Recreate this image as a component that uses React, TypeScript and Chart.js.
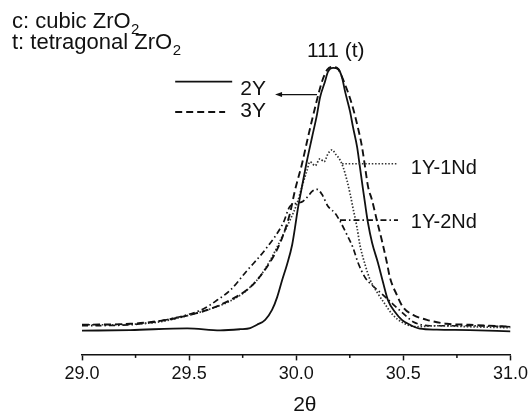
import { useEffect, useRef } from "react";
import { Chart, registerables } from "chart.js";

Chart.register(...registerables);

// ---- data (2θ in degrees, intensity in arbitrary units) ----
const X_TICKS = [29.0, 29.5, 30.0, 30.5, 31.0];
const MINOR_TICKS = [29.25, 29.75, 30.25, 30.75];

const X_2Y = [29.0, 29.225, 29.491, 29.645, 29.738, 29.785, 29.817, 29.855, 29.887, 29.911, 29.934, 29.957, 29.981, 29.994, 30.008, 30.027, 30.05, 30.074, 30.097, 30.111, 30.134, 30.148, 30.172, 30.195, 30.214, 30.228, 30.251, 30.265, 30.284, 30.297, 30.311, 30.321, 30.335, 30.354, 30.381, 30.405, 30.428, 30.461, 30.493, 30.531, 30.577, 30.656, 30.81, 31.0];
const I_2Y = [8.0, 8.2, 8.8, 8.1, 8.5, 8.9, 10.0, 11.67, 15.0, 19.33, 25.0, 30.33, 37.0, 42.67, 49.33, 56.67, 65.33, 73.33, 81.0, 86.67, 92.0, 95.33, 96.67, 96.33, 93.33, 88.67, 82.0, 76.67, 70.0, 63.33, 56.0, 51.0, 44.33, 37.67, 31.0, 24.33, 18.33, 14.33, 11.67, 10.0, 8.67, 8.33, 8.2, 7.8];

const X_3Y = [29.0, 29.225, 29.365, 29.505, 29.598, 29.692, 29.785, 29.855, 29.925, 29.971, 29.994, 30.027, 30.055, 30.088, 30.12, 30.144, 30.167, 30.19, 30.228, 30.26, 30.284, 30.307, 30.321, 30.335, 30.354, 30.377, 30.4, 30.423, 30.437, 30.47, 30.498, 30.545, 30.61, 30.703, 30.81, 31.0];
const I_3Y = [10.0, 10.33, 11.33, 13.33, 15.33, 18.33, 22.67, 28.67, 37.67, 47.67, 55.33, 64.33, 73.33, 83.33, 92.0, 96.0, 97.0, 96.67, 91.0, 84.33, 77.67, 70.0, 63.33, 56.67, 52.0, 45.0, 38.33, 31.0, 26.0, 20.0, 16.0, 13.33, 11.67, 10.33, 10.0, 9.33];

const X_1Y1ND = [29.0, 29.132, 29.272, 29.365, 29.505, 29.598, 29.692, 29.752, 29.785, 29.831, 29.878, 29.925, 29.971, 30.004, 30.027, 30.05, 30.064, 30.088, 30.111, 30.13, 30.148, 30.167, 30.186, 30.204, 30.218, 30.237, 30.251, 30.265, 30.284, 30.297, 30.321, 30.344, 30.377, 30.414, 30.451, 30.498, 30.563, 30.656, 30.81, 31.0];
const I_1Y1ND = [10.0, 10.0, 10.33, 11.0, 13.33, 15.33, 18.0, 20.67, 22.67, 26.33, 31.67, 38.33, 45.33, 51.0, 56.67, 62.0, 65.0, 63.67, 66.0, 65.0, 67.67, 69.0, 67.33, 65.67, 63.33, 58.67, 54.33, 49.33, 42.67, 37.0, 30.33, 25.33, 21.0, 17.0, 13.33, 10.67, 9.33, 9.67, 9.33, 9.0];

const X_1Y2ND = [29.0, 29.225, 29.412, 29.566, 29.631, 29.692, 29.771, 29.855, 29.939, 29.971, 30.004, 30.032, 30.055, 30.074, 30.097, 30.12, 30.148, 30.181, 30.204, 30.237, 30.265, 30.288, 30.321, 30.354, 30.391, 30.451, 30.517, 30.545, 30.624, 30.81, 31.0];
const I_1Y2ND = [9.67, 10.0, 12.0, 15.33, 18.33, 21.67, 28.33, 35.33, 44.33, 50.0, 51.0, 51.67, 53.33, 55.0, 55.67, 54.0, 50.0, 47.67, 45.0, 40.33, 36.0, 31.0, 26.0, 23.33, 21.0, 17.0, 12.67, 11.0, 9.67, 9.67, 9.33];

const SERIES_NAMES = ["2Y", "3Y", "1Y-1Nd", "1Y-2Nd"];

const FONT = '"Liberation Sans", Arial, Helvetica, sans-serif';
const INK = "#111111";
const DASH_3Y = [7, 4];
const DASH_1ND = [1.5, 1.8];
const DASH_2ND = [6, 3, 1.5, 3];

const toPoints = (xs: number[], ys: number[]) => xs.map((x, i) => ({ x, y: ys[i] }));

const annotations = {
  id: "annotations",
  afterDraw(chart: any) {
    const ctx = chart.ctx as CanvasRenderingContext2D;
    const xs = chart.scales.x;
    const ys = chart.scales.y;
    const X = (v: number) => xs.getPixelForValue(v);
    const Y = (v: number) => ys.getPixelForValue(v);
    const area = chart.chartArea;
    ctx.save();
    ctx.strokeStyle = INK;
    ctx.fillStyle = INK;

    // minor ticks
    ctx.lineWidth = 1.5;
    MINOR_TICKS.forEach((t) => {
      ctx.beginPath();
      ctx.moveTo(X(t), area.bottom);
      ctx.lineTo(X(t), area.bottom + 3.5);
      ctx.stroke();
    });

    const text = (s: string, x: number, y: number, size: number, sub?: string) => {
      ctx.font = `${size}px ${FONT}`;
      ctx.textAlign = "left";
      ctx.textBaseline = "alphabetic";
      ctx.fillText(s, x, y);
      if (sub) {
        const w = ctx.measureText(s).width;
        ctx.font = `${Math.round(size * 0.66)}px ${FONT}`;
        ctx.fillText(sub, x + w + 0.5, y + 6);
      }
    };
    const seg = (x1: number, y1: number, x2: number, y2: number, dash: number[], w = 1.6, color = INK) => {
      ctx.save();
      ctx.strokeStyle = color;
      ctx.lineWidth = w;
      ctx.setLineDash(dash);
      ctx.beginPath();
      ctx.moveTo(x1, y1);
      ctx.lineTo(x2, y2);
      ctx.stroke();
      ctx.restore();
    };

    // top-left notes
    text("c: cubic ZrO", 12, 28, 22, "2");
    text("t: tetragonal ZrO", 12, 49, 22, "2");

    // peak label
    text("111 (t)", X(30.05), Y(100.3), 21);

    // legend
    seg(X(29.435), Y(92), X(29.701), Y(92), [], 1.8);
    text(SERIES_NAMES[0], X(29.739), Y(87.67), 21);
    seg(X(29.435), Y(81.8), X(29.668), Y(81.8), DASH_3Y, 1.9);
    text(SERIES_NAMES[1], X(29.739), Y(80), 21);

    // arrow pointing to the 2Y peak
    const ay = Y(87.67);
    const ax2 = X(30.097);
    const ax1 = X(29.901);
    seg(ax2, ay, ax1 + 5, ay, [], 1.3);
    ctx.beginPath();
    ctx.moveTo(ax1, ay);
    ctx.lineTo(ax1 + 7, ay - 2.5);
    ctx.lineTo(ax1 + 7, ay + 2.5);
    ctx.closePath();
    ctx.fill();

    // leader lines for Nd samples
    seg(X(30.214), Y(64.33), X(30.475), Y(64.33), DASH_1ND, 1.7, "#333");
    text(SERIES_NAMES[2], X(30.535), Y(61), 20);
    seg(X(30.204), Y(45.33), X(30.475), Y(45.33), DASH_2ND, 1.7);
    text(SERIES_NAMES[3], X(30.535), Y(42.67), 20);

    // axis title
    ctx.font = `21px ${FONT}`;
    ctx.textAlign = "center";
    ctx.textBaseline = "alphabetic";
    ctx.fillText("2θ", X(30.04), 411);

    ctx.restore();
  },
};

export default function App() {
  const ref = useRef<HTMLCanvasElement | null>(null);
  useEffect(() => {
    document.body.style.margin = "0";
    if (!ref.current) return;
    const common = {
      pointRadius: 0,
      fill: false,
      tension: 0.35,
      cubicInterpolationMode: "monotone" as const,
    };
    const chart = new Chart(ref.current, {
      type: "line",
      data: {
        datasets: [
          { ...common, label: SERIES_NAMES[0], data: toPoints(X_2Y, I_2Y), borderColor: INK, borderWidth: 1.8 },
          { ...common, label: SERIES_NAMES[1], data: toPoints(X_3Y, I_3Y), borderColor: INK, borderWidth: 1.9, borderDash: DASH_3Y },
          { ...common, label: SERIES_NAMES[2], data: toPoints(X_1Y1ND, I_1Y1ND), borderColor: "#333", borderWidth: 1.7, borderDash: DASH_1ND },
          { ...common, label: SERIES_NAMES[3], data: toPoints(X_1Y2ND, I_1Y2ND), borderColor: INK, borderWidth: 1.7, borderDash: DASH_2ND },
        ],
      },
      options: {
        responsive: false,
        animation: false,
        layout: { padding: { left: 82, right: 20, top: 58, bottom: 25 } },
        plugins: { legend: { display: false }, tooltip: { enabled: false } },
        scales: {
          x: {
            type: "linear",
            min: 29,
            max: 31,
            afterBuildTicks: (s: any) => {
              s.ticks = X_TICKS.map((v) => ({ value: v }));
            },
            ticks: {
              callback: (v: any) => Number(v).toFixed(1),
              font: { size: 18, family: FONT },
              color: INK,
              padding: 3,
              maxRotation: 0,
              autoSkip: false,
            },
            grid: {
              display: true,
              drawOnChartArea: false,
              drawTicks: true,
              tickLength: 6,
              tickWidth: 1.5,
              tickColor: INK,
            },
            border: { display: true, color: INK, width: 1.5 },
          },
          y: { display: false, min: 0, max: 100 },
        },
      },
      plugins: [annotations],
    });
    return () => chart.destroy();
  }, []);
  return (
    <div style={{ width: 531, height: 413 }}>
      <canvas ref={ref} width={531} height={413} style={{ display: "block" }} />
    </div>
  );
}
